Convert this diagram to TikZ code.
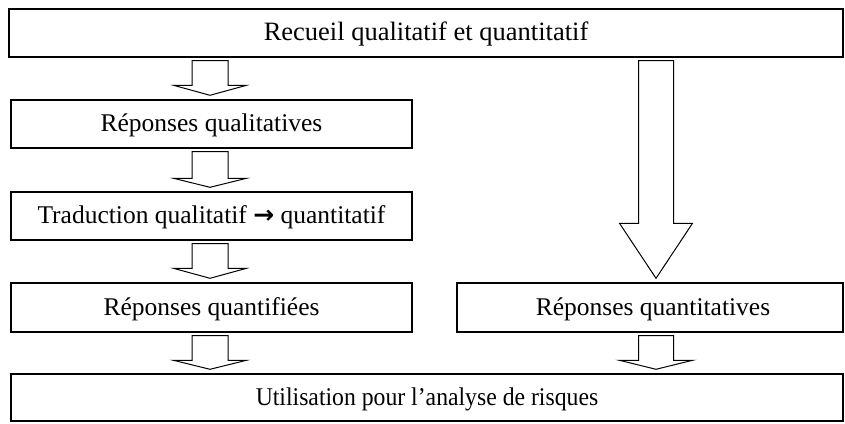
\documentclass[tikz,border=0pt]{standalone}
\usepackage{fontspec}
\usepackage{graphicx}
\setmainfont{Liberation Serif}
\newfontfamily\arrowfont{DejaVu Sans}
\usetikzlibrary{calc}
\tikzset{
  box/.style={draw=black, line width=1.4pt, rectangle, inner sep=0pt,
    minimum height=48pt, text height=16pt, text depth=0pt,
    font=\fontsize{25.5}{30}\selectfont},
  blk/.style={draw=black, line width=1pt, fill=white, line join=miter}
}
\newcommand\blockarrow[6]{% from, to, x, half shaft, half head, head length
  \draw[blk] let \p1=(#1.south), \p2=(#2.north) in
    (#3pt-#4pt,\y1-3pt) -- (#3pt+#4pt,\y1-3pt) -- (#3pt+#4pt,\y2+4pt+#6pt)
    -- (#3pt+#5pt,\y2+4pt+#6pt) -- (#3pt,\y2+4pt) -- (#3pt-#5pt,\y2+4pt+#6pt)
    -- (#3pt-#4pt,\y2+4pt+#6pt) -- cycle;}
\begin{document}
\begin{tikzpicture}[x=1pt,y=1pt]
\useasboundingbox (0,0) rectangle (845,423);
\node[box, minimum width=834pt, font=\fontsize{26.5}{32}\selectfont] (top) at (426,390) {Recueil qualitatif et quantitatif};
\node[box, minimum width=401pt] (qual) at (211.5,299) {Réponses qualitatives};
\node[box, minimum width=401pt] (trad) at (211.5,207) {Traduction qualitatif {\arrowfont\bfseries\fontsize{25}{30}\selectfont →} quantitatif};
\node[box, minimum width=401pt, minimum height=49pt] (qfied) at (211.5,115.5) {Réponses quantifiées};
\node[box, minimum width=386pt, minimum height=49pt] (qtive) at (650,115.5) {\hspace*{6pt}Réponses quantitatives};
\node[box, minimum width=832pt, minimum height=47pt] (use) at (427,25.5) {\scalebox{0.93}[1]{Utilisation pour l’analyse de risques}};
\blockarrow{top}{qual}{210}{18}{36.5}{10}
\blockarrow{qual}{trad}{210}{18}{36.5}{9}
\blockarrow{trad}{qfied}{210}{18}{36.5}{10}
\blockarrow{qfied}{use}{210}{18}{36.5}{9}
\blockarrow{top}{qtive}{656}{17.5}{36.5}{55}
\blockarrow{qtive}{use}{656}{17.5}{36.5}{9}
\end{tikzpicture}
\end{document}
